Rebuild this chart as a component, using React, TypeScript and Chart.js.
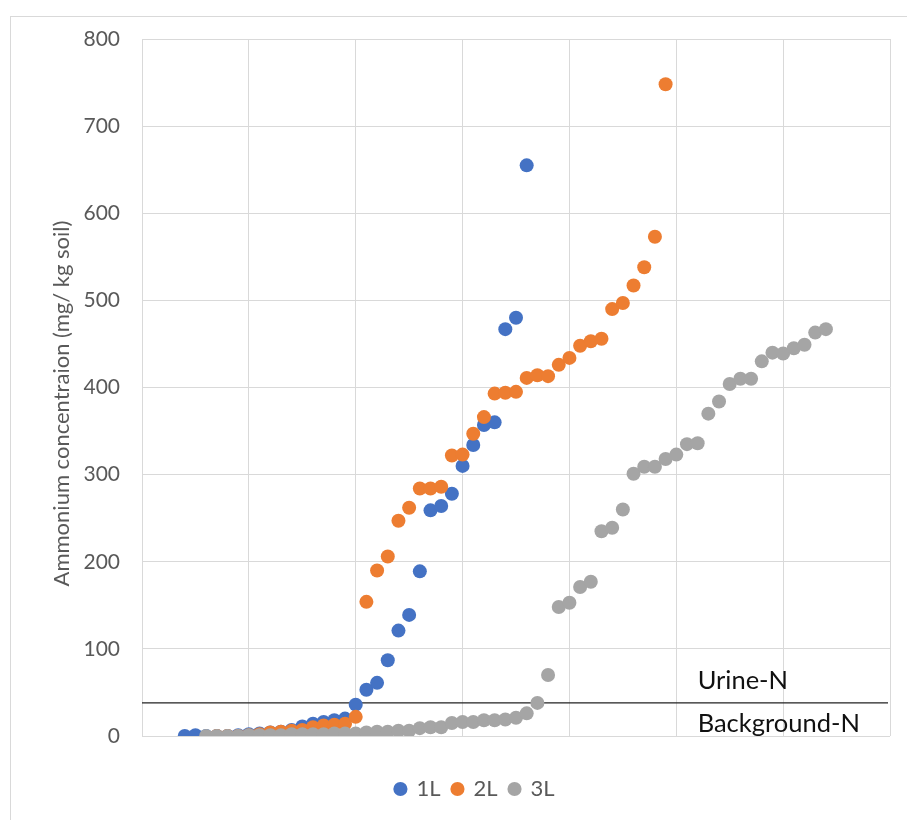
import React, { useEffect, useRef } from "react";
import { Chart, registerables } from "chart.js";

Chart.register(...registerables);

// ---------- data ----------
const SERIES_NAMES = ["1L", "2L", "3L"];
const SERIES_COLORS = ["#4472C4", "#ED7D31", "#A5A5A5"];

const X_1L = [4, 5, 6, 7, 8, 9, 10, 11, 12, 13, 14, 15, 16, 17, 18, 19, 20, 21, 22, 23, 24, 25, 26, 27, 28, 29, 30, 31, 32, 33, 34, 35, 36];
const Y_1L = [0, 1, 0, 0, 0, 1, 2, 3, 4, 5, 7, 11, 14, 16, 18, 20, 36, 53, 61, 87, 121, 139, 189, 259, 264, 278, 310, 334, 357, 360, 467, 480, 655];

const X_2L = [7, 8, 9, 10, 11, 12, 13, 14, 15, 16, 17, 18, 19, 20, 21, 22, 23, 24, 25, 26, 27, 28, 29, 30, 31, 32, 33, 34, 35, 36, 37, 38, 39, 40, 41, 42, 43, 44, 45, 46, 47, 48, 49];
const Y_2L = [0, 0, 0, 1, 2, 4, 5, 6, 7, 10, 12, 13, 14, 22, 154, 190, 206, 247, 262, 284, 284, 286, 322, 323, 347, 366, 393, 394, 395, 411, 414, 413, 426, 434, 448, 453, 456, 490, 497, 517, 538, 573, 748];

const X_3L = [6, 7, 8, 9, 10, 11, 12, 13, 14, 15, 16, 17, 18, 19, 20, 21, 22, 23, 24, 25, 26, 27, 28, 29, 30, 31, 32, 33, 34, 35, 36, 37, 38, 39, 40, 41, 42, 43, 44, 45, 46, 47, 48, 49, 50, 51, 52, 53, 54, 55, 56, 57, 58, 59, 60, 61, 62, 63, 64];
const Y_3L = [0, 0, 0, 0, 1, 1, 1, 1, 2, 2, 2, 2, 3, 3, 3, 4, 5, 5, 6, 6, 9, 10, 10, 15, 16, 16, 18, 18, 19, 21, 26, 38, 70, 148, 153, 171, 177, 235, 239, 260, 301, 309, 309, 318, 323, 335, 336, 370, 384, 404, 410, 410, 430, 440, 439, 445, 449, 463, 467];

const Y_MIN = 0;
const Y_MAX = 800;
const Y_STEP = 100;
const X_MIN = 0;
const X_MAX = 70;
const X_STEP = 10;

const Y_TITLE = "Ammonium concentraion (mg/ kg soil)";
const THRESHOLD = 38;
const ANNOTATION_LABELS = ["Urine-N", "Background-N"];
const ANNOTATION_X = [52, 52];
const ANNOTATION_Y = [63, 14];

const FONT = "Lato";
const LEGEND_SHIFT = 30;

function toPoints(xs: number[], ys: number[]) {
  return xs.map((x, i) => ({ x, y: ys[i] }));
}

const overlayPlugin = {
  id: "overlay",
  afterLayout(chart: any) {
    if (chart.legend) {
      chart.legend.left += LEGEND_SHIFT;
      chart.legend.right += LEGEND_SHIFT;
    }
  },
  beforeDatasetsDraw(chart: any) {
    const { ctx, chartArea, scales } = chart;
    const py = scales.y.getPixelForValue(THRESHOLD);
    ctx.save();
    ctx.strokeStyle = "#222222";
    ctx.lineWidth = 1.4;
    ctx.beginPath();
    ctx.moveTo(chartArea.left, py);
    ctx.lineTo(chartArea.right - 2, py);
    ctx.stroke();
    ctx.restore();
  },
  afterDraw(chart: any) {
    const { ctx, chartArea, scales } = chart;
    ctx.save();
    ctx.fillStyle = "#111111";
    ctx.font = `25.5px ${FONT}`;
    ctx.textAlign = "left";
    ctx.textBaseline = "middle";
    ANNOTATION_LABELS.forEach((t, i) => {
      ctx.fillText(t, scales.x.getPixelForValue(ANNOTATION_X[i]), scales.y.getPixelForValue(ANNOTATION_Y[i]));
    });
    ctx.restore();

    ctx.save();
    ctx.fillStyle = "#595959";
    ctx.font = `22px ${FONT}`;
    ctx.textAlign = "center";
    ctx.textBaseline = "middle";
    ctx.translate(62, (chartArea.top + chartArea.bottom) / 2 + 16);
    ctx.rotate(-Math.PI / 2);
    ctx.fillText(Y_TITLE, 0, 0);
    ctx.restore();
  },
};

export default function App() {
  const canvasRef = useRef<HTMLCanvasElement | null>(null);

  useEffect(() => {
    const canvas = canvasRef.current;
    if (!canvas) return;
    const xs = [X_1L, X_2L, X_3L];
    const ys = [Y_1L, Y_2L, Y_3L];
    const chart = new Chart(canvas, {
      type: "scatter",
      data: {
        datasets: SERIES_NAMES.map((name, i) => ({
          label: name,
          data: toPoints(xs[i], ys[i]),
          backgroundColor: SERIES_COLORS[i],
          borderColor: SERIES_COLORS[i],
          borderWidth: 0,
          pointRadius: 7,
          pointHoverRadius: 7,
          pointStyle: "circle",
          order: 3 - i,
        })),
      },
      options: {
        responsive: false,
        animation: false,
        layout: { padding: { left: 0, right: 17, top: 39, bottom: 10 } },
        plugins: {
          legend: {
            position: "bottom",
            labels: {
              usePointStyle: true,
              pointStyle: "circle",
              boxWidth: 10,
              boxHeight: 10,
              padding: 12,
              color: "#595959",
              font: { size: 22, family: FONT },
              sort: (a: any, b: any) => a.datasetIndex - b.datasetIndex,
            },
          },
          tooltip: { enabled: false },
        },
        scales: {
          x: {
            type: "linear",
            min: X_MIN,
            max: X_MAX,
            ticks: { display: false, stepSize: X_STEP },
            grid: { color: "#D9D9D9", lineWidth: 1, drawTicks: false },
            border: { display: false },
            afterFit: (scale: any) => {
              scale.height = 30;
            },
          },
          y: {
            type: "linear",
            min: Y_MIN,
            max: Y_MAX,
            ticks: {
              stepSize: Y_STEP,
              padding: 22,
              color: "#595959",
              font: { size: 21, family: FONT },
            },
            grid: { color: "#D9D9D9", lineWidth: 1, drawTicks: false },
            border: { display: false },
            afterFit: (scale: any) => {
              scale.width = 142;
            },
          },
        },
      },
      plugins: [overlayPlugin],
    });
    return () => chart.destroy();
  }, []);

  return (
    <div style={{ position: "fixed", left: 0, top: 0, width: 907, height: 820, background: "#fff", overflow: "hidden" }}>
      <div
        style={{
          position: "absolute",
          left: 10,
          top: 16,
          width: 897,
          height: 804,
          borderLeft: "1px solid #D9D9D9",
          borderTop: "1px solid #D9D9D9",
          boxSizing: "border-box",
        }}
      />
      <canvas ref={canvasRef} width={907} height={820} style={{ position: "absolute", left: 0, top: 0, display: "block" }} />
    </div>
  );
}
